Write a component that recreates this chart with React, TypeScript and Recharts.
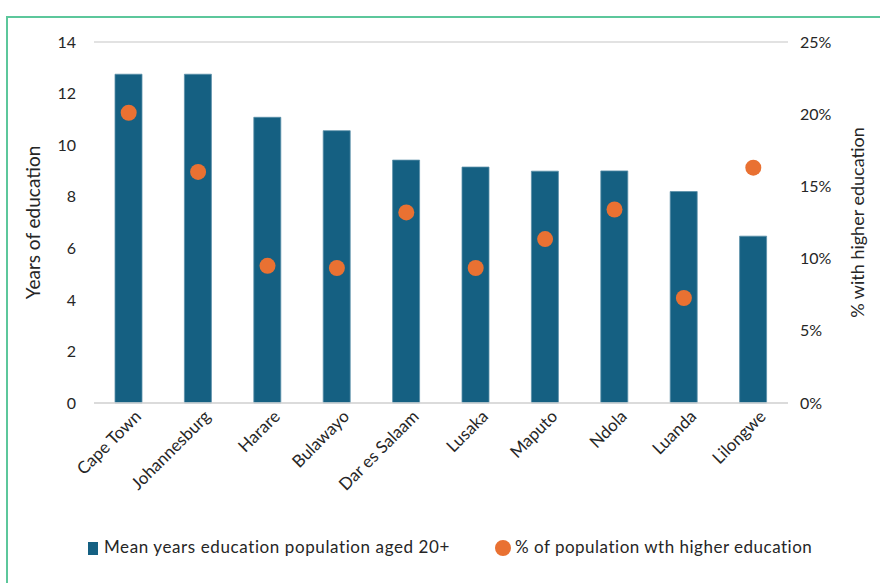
import {
  ComposedChart, Bar, Line, XAxis, YAxis, CartesianGrid, Legend,
} from 'recharts'

const CITIES = [
  'Cape Town', 'Johannesburg', 'Harare', 'Bulawayo', 'Dar es Salaam',
  'Lusaka', 'Maputo', 'Ndola', 'Luanda', 'Lilongwe',
]
const MEAN_YEARS = [12.75, 12.75, 11.08, 10.56, 9.42, 9.15, 8.99, 9.0, 8.2, 6.47]
const HIGHER_ED_PCT = [20.1, 16.0, 9.5, 9.35, 13.2, 9.35, 11.35, 13.4, 7.27, 16.3]

const YEAR_TICKS = [0, 2, 4, 6, 8, 10, 12, 14]
const PCT_TICKS = [0, 5, 10, 15, 20, 25]

const BAR_NAME = 'Mean years education population aged 20+'
const DOT_NAME = '% of population wth higher education'

const BLUE = '#156082'
const ORANGE = '#e97132'
const FONT = 'Lato, "Open Sans", sans-serif'

const data = CITIES.map((city, i) => ({
  city,
  years: MEAN_YEARS[i],
  pct: HIGHER_ED_PCT[i],
}))

function LegendRow() {
  return (
    <div style={{ position: 'relative', height: 24, fontFamily: FONT, fontSize: 17, color: '#262626' }}>
      <div style={{ position: 'absolute', left: 88, top: 6, width: 10, height: 13, background: BLUE }} />
      <span style={{ position: 'absolute', left: 104, top: 0, whiteSpace: 'nowrap', letterSpacing: 0.6 }}>
        {BAR_NAME}
      </span>
      <div style={{ position: 'absolute', left: 495, top: 4, width: 16, height: 16, borderRadius: '50%', background: ORANGE }} />
      <span style={{ position: 'absolute', left: 515, top: 0, whiteSpace: 'nowrap', letterSpacing: 0.5 }}>
        {DOT_NAME}
      </span>
    </div>
  )
}

export default function App() {
  return (
    <div style={{ position: 'absolute', left: 0, top: 0, width: 880, height: 583, overflow: 'hidden', background: '#fff' }}>
      <div style={{ position: 'absolute', left: 6, top: 16, width: 900, height: 600, border: '2px solid #5cc79b' }} />
      <div style={{ position: 'absolute', left: 0, top: 0 }}>
        <ComposedChart
          width={880}
          height={583}
          data={data}
          margin={{ top: 42, right: 0, bottom: 0, left: 0 }}
          barCategoryGap={21}
          style={{ fontFamily: FONT }}
        >
          <CartesianGrid vertical={false} stroke="#d9d9d9" strokeWidth={1.5} />
          <XAxis
            dataKey="city"
            interval={0}
            height={156}
            angle={-45}
            textAnchor="end"
            axisLine={{ stroke: '#d9d9d9', strokeWidth: 1.5 }}
            tickLine={false}
            tickMargin={0}
            dx={5}
            tick={{ fontSize: 17, fill: '#262626' }}
          />
          <YAxis
            yAxisId="left"
            width={94}
            domain={[0, 14]}
            ticks={YEAR_TICKS}
            axisLine={false}
            tickLine={false}
            tickMargin={12}
            tick={{ fontSize: 16, fill: '#262626' }}
            label={{ value: 'Years of education', angle: -90, position: 'center', dx: -14, style: { fontSize: 19, fill: '#262626' } }}
          />
          <YAxis
            yAxisId="right"
            orientation="right"
            width={92}
            domain={[0, 25]}
            ticks={PCT_TICKS}
            tickFormatter={(v) => `${v}%`}
            axisLine={false}
            tickLine={false}
            tickMargin={6}
            tick={{ fontSize: 16, fill: '#262626' }}
            label={{ value: '% with higher education', angle: -90, position: 'center', dx: 24, style: { fontSize: 18, fill: '#262626' } }}
          />
          <Legend
            verticalAlign="bottom"
            wrapperStyle={{ left: 0, width: 880, bottom: 23 }}
            content={() => <LegendRow />}
          />
          <Bar
            yAxisId="left"
            dataKey="years"
            name={BAR_NAME}
            fill={BLUE}
            stroke="#5b8fa8"
            strokeWidth={0.8}
            isAnimationActive={false}
          />
          <Line
            yAxisId="right"
            dataKey="pct"
            name={DOT_NAME}
            stroke="none"
            dot={{ r: 8, fill: ORANGE, stroke: 'none' }}
            activeDot={false}
            isAnimationActive={false}
          />
        </ComposedChart>
      </div>
    </div>
  )
}
